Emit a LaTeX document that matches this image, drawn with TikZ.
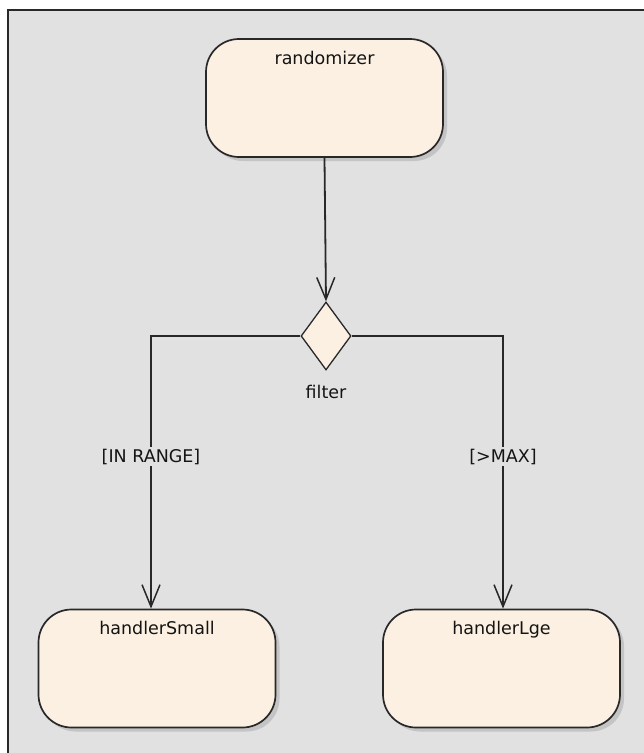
\documentclass[tikz,border=0pt]{standalone}
\usepackage{fontspec}
\newfontfamily\umlfont{DejaVu Sans}
\usetikzlibrary{shapes.geometric,arrows.meta,shadows,calc}
\definecolor{canvas}{RGB}{225,225,225}
\definecolor{cream}{RGB}{251,240,226}
\definecolor{edge}{RGB}{40,40,40}
\definecolor{ink}{RGB}{20,20,20}
\definecolor{shade}{RGB}{196,196,196}

\begin{document}
\begin{tikzpicture}[x=1pt, y=-1pt,
  every node/.style={font=\umlfont\fontsize{17.5}{20}\selectfont, text=ink},
  activity/.style={draw=edge, fill=cream, line width=1.7pt, rounded corners=33pt,
    minimum width=237pt, minimum height=118pt, inner sep=0pt,
    drop shadow={shadow xshift=4pt, shadow yshift=-4pt, fill=shade, opacity=1}},
  decision/.style={diamond, draw=edge, fill=cream, line width=1.3pt,
    minimum width=50pt, minimum height=68pt, inner sep=0pt},
  flow/.style={draw=edge, line width=1.8pt,
    -{Straight Barb[length=22pt, width=18pt, line width=1.5pt]}},
  guard/.style={fill=canvas, inner sep=2pt, anchor=base}]
\useasboundingbox (0,0) rectangle (644,753);
\fill[white] (0,0) rectangle (644,753);
\fill[canvas] (8,10) rectangle (644,753);
\draw[edge, line width=2pt] (8,753) -- (8,10) -- (644,10);
\node[activity] (randomizer) at (324.5,98) {};
\node[decision] (filter) at (326,336) {};
\node[activity] (handlerSmall) at (157,668.5) {};
\node[activity] (handlerLge) at (501.5,668.5) {};
\coordinate (smallDrop) at (151,0);
\coordinate (lgeDrop) at (503,0);
\draw[flow] (randomizer.south) -- (filter.north);
\draw[flow] (filter.west) -| (smallDrop |- handlerSmall.north);
\draw[flow] (filter.east) -| (lgeDrop |- handlerLge.north);
\node[anchor=base] (randomizerName) at ($(randomizer.north)+(0,26)$) {randomizer};
\node[anchor=base] (handlerSmallName) at ($(handlerSmall.north)+(0,26)$) {handlerSmall};
\node[anchor=base] (handlerLgeName) at ($(handlerLge.north)+(0,26)$) {handlerLge};
\node[anchor=base] (filterName) at (326,398) {filter};
\node[guard] (inRange) at (151,462) {[IN RANGE]};
\node[guard] (overMax) at (503,462) {[>MAX]};
\end{tikzpicture}
\end{document}
